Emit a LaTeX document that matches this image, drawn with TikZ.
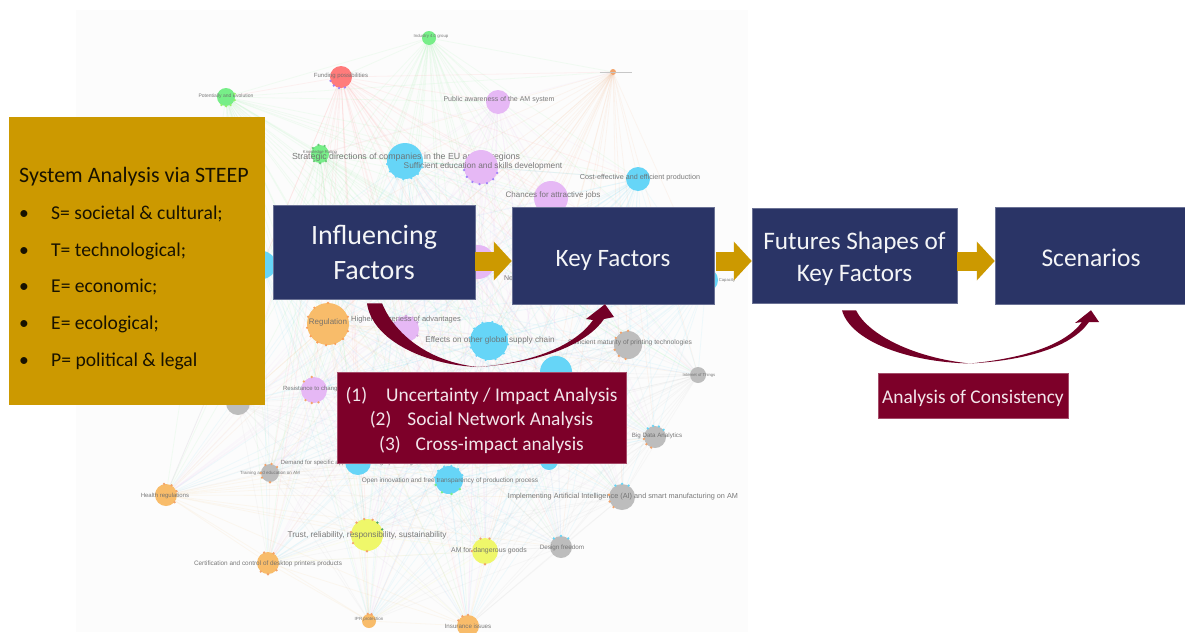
\documentclass[tikz,border=0pt]{standalone}
\usepackage{fontspec}
\setmainfont{Carlito}
\newfontfamily\netfont{Liberation Sans}
\usetikzlibrary{arrows.meta,calc}
\pgfdeclarelayer{back}
\pgfsetlayers{back,main}
\definecolor{navy}{HTML}{2A3466}
\definecolor{goldbox}{HTML}{CC9900}
\definecolor{maroon}{HTML}{7D0029}
\definecolor{ngrn}{HTML}{77EE88}
\definecolor{nred}{HTML}{FF7B7B}
\definecolor{nlil}{HTML}{E6B8F5}
\definecolor{nblu}{HTML}{66D5F7}
\definecolor{norg}{HTML}{F8BC6A}
\definecolor{ngry}{HTML}{BDBDBD}
\definecolor{nyel}{HTML}{EFF76A}
\definecolor{nord}{HTML}{F2A36B}
\tikzset{
  x=1pt,y=-1pt,
  netdot/.style={circle,draw=none,inner sep=0pt},
  netlab/.style={inner sep=0pt,text=black!58,text opacity=.9},
  navybox/.style={rectangle,fill=navy,draw=navy!70!white,line width=.5pt,inner sep=0pt,text=white!95!navy,align=center},
  redbox/.style={rectangle,fill=maroon,draw=maroon!70!white,line width=.5pt,inner sep=0pt,text=white!90!maroon,align=center},
  flowarrow/.style={draw=goldbox,line width=19pt,-{Triangle[length=18pt,width=38pt,fill=goldbox]}},
  crescent/.style={fill=maroon!92!black,draw=none},
  web/.style={line width=.8pt,opacity=.09},
  steep/.style={anchor=base west,inner sep=0pt,text=black!88!goldbox,font=\fontsize{19.6}{21}\selectfont},
}
% name, x, y, radius, colour, label, label x, label y, label size
\newcommand{\nn}[9]{%
  \node[netdot,fill=#5,minimum size=#4*2pt] (#1) at (#2,#3) {};
  \ifx\relax#6\relax\else
  \node[netlab,font=\netfont\fontsize{#9}{#9}\selectfont] (#1l) at (#7,#8) {#6};
  \fi
}
\newcommand{\tk}[3]{\foreach \an in {#3} \fill[#2] (#1.\an) circle (1.3pt);}
\def\netlist{ind/ngrn,fun/nred,pot/ngrn,pub/nlil,tin/nord,kno/ngrn,stra/nblu,suf/nlil,cos/nblu,cha/nlil,blf/nblu,nwn/nlil,cap/nblu,reg/norg,hig/nlil,eff/nblu,mat/ngry,iot/ngry,wrk/nblu,res/nlil,gsm/ngry,hea/norg,tra/ngry,dem/nblu,ope/nblu,blr/nblu,big/ngry,imp/ngry,des/ngry,tru/nyel,dan/nyel,cer/norg,ipr/norg,ins/norg}
\begin{document}
\begin{tikzpicture}
\useasboundingbox (0,0) rectangle (1185,632);
% network nodes
\nn{ind}{429}{38}{7}{ngrn}{Industry 4.0 group}{431}{36}{4.3}
\nn{fun}{341}{77}{11}{nred}{Funding possibilities}{341}{76}{6}
\nn{pot}{226}{97}{9}{ngrn}{Potentially and Evolution}{226}{96}{5}
\nn{pub}{498}{102}{12}{nlil}{Public awareness of the AM system}{499}{100}{7}
\nn{tin}{613}{72}{3}{nord}{}{0}{0}{1}
\nn{kno}{320}{154}{9}{ngrn}{Knowledge Rating}{320}{152}{4.2}
\nn{stra}{405}{161}{18}{nblu}{Strategic directions of companies in the EU and its regions}{406}{157}{8.8}
\nn{suf}{481}{167}{17}{nlil}{Sufficient education and skills development}{483}{166}{8.3}
\nn{cos}{638}{179}{12}{nblu}{Cost-effective and efficient production}{640}{178}{7.2}
\nn{cha}{551}{198}{17}{nlil}{Chances for attractive jobs}{553}{195}{8}
\nn{blf}{262}{265}{14}{nblu}{}{0}{0}{1}
\nn{nwn}{478}{262}{17}{nlil}{New}{511}{278}{7}
\nn{cap}{706}{280}{12}{nblu}{Capacity}{727}{280}{4.2}
\nn{reg}{328}{324}{21}{norg}{Regulation}{328}{322}{8}
\nn{hig}{406}{329}{13}{nlil}{Higher awareness of advantages}{406}{320}{7.5}
\nn{eff}{489}{341}{19}{nblu}{Effects on other global supply chain}{490}{340}{8.2}
\nn{mat}{628}{345}{14}{ngry}{Sufficient maturity of printing technologies}{630}{343}{6.7}
\nn{iot}{698}{375}{8}{ngry}{Internet of Things}{699}{375}{4.2}
\nn{wrk}{556}{372}{16}{nblu}{}{0}{0}{1}
\nn{res}{314}{390}{13}{nlil}{Resistance to change}{312}{389}{6}
\nn{gsm}{238}{403}{12}{ngry}{}{0}{0}{1}
\nn{hea}{166}{495}{11}{norg}{Health regulations}{165}{496}{6}
\nn{tra}{270}{473}{9}{ngry}{Training and education on AM}{270}{473}{4.5}
\nn{dem}{358}{462}{13}{nblu}{Demand for specific applications in high-price segments}{355}{463}{6}
\nn{ope}{449}{480}{14}{nblu}{Open innovation and free transparency of production process}{450}{481}{6.5}
\nn{blr}{549}{461}{9}{nblu}{}{0}{0}{1}
\nn{big}{655}{437}{11}{ngry}{Big Data Analytics}{657}{436}{6.2}
\nn{imp}{622}{497}{13}{ngry}{Implementing Artificial Intelligence (AI) and smart manufacturing on AM}{623}{497}{7.3}
\nn{des}{561}{547}{11}{ngry}{Design freedom}{562}{548}{6.3}
\nn{tru}{367}{535}{16}{nyel}{Trust, reliability, responsibility, sustainability}{367}{535}{8.3}
\nn{dan}{485}{551}{13}{nyel}{AM for dangerous goods}{489}{551}{6.9}
\nn{cer}{268}{563}{11}{norg}{Certification and control of desktop printers products}{268}{564}{6.4}
\nn{ipr}{369}{621}{7}{norg}{IPR protection}{369}{619}{4.5}
\nn{ins}{468}{626}{11}{norg}{Insurance issues}{468}{626}{6.2}
% small markers round the nodes
\draw[black!22,line width=.6pt] ([xshift=-13pt]tin.center) -- ([xshift=19pt]tin.center);
\tk{fun}{nlil!70!blue}{200,230,260,290}
\tk{pot}{ngrn!80!yellow}{240,270,300,340,20}
\tk{kno}{ngrn!85!black}{60,100,140,230,270,310}
\tk{stra}{nblu}{190,215,240,265,290,315,340}
\tk{suf}{nlil!70!blue}{190,215,240,265,290,315,340}
\tk{reg}{norg!85!red}{190,215,240,265,290,315,340,20,90,130,160}
\tk{hig}{nlil!90!black}{30,60,90,120,150,210,270,330}
\tk{eff}{nblu}{20,50,80,110,140,170,200,230,260,290,320,350}
\tk{mat}{nord}{200,230,260,120,150,90}
\tk{res}{nord}{230,260,290,100,140}
\tk{hea}{nord}{20,60,100,320}
\tk{tra}{nord}{180,210,270,40,80,120}
\tk{ope}{nblu}{20,50,80,110,140,170}
\tk{ope}{ngrn}{200,240,280,320}
\tk{big}{nblu}{40,70,100,130}
\tk{big}{nord}{190,220,250}
\tk{imp}{nblu}{60,90,120}
\tk{imp}{nord}{170,200,230}
\tk{des}{nblu}{50,90,130}
\tk{tru}{nord}{70,100,130,170,210,270}
\tk{tru}{ngrn!70!black}{20,50}
\tk{dan}{nord}{70,110,180,270}
\tk{cer}{nord}{60,110,230,270,320}
\tk{ipr}{nord}{70,100}
\tk{ins}{nord}{90,120,150}
% web of links, behind the nodes
\begin{pgfonlayer}{back}
\fill[white] (0,0) rectangle (1185,632);
\fill[black!1.2] (76,10) rectangle (748,632);
\foreach \a/\c [count=\i] in \netlist {
  \foreach \b/\d [count=\j] in \netlist {
    \ifnum\j>\i
      \draw[web,draw=\c] (\a) -- (\b);
    \fi
  }
}
\end{pgfonlayer}
% system analysis box
\node[rectangle,fill=goldbox,inner sep=0pt,minimum width=256pt,minimum height=288pt] (sys) at (137,261) {};
\node[steep,font=\fontsize{22}{23}\selectfont] (sys0) at (19,182) {System Analysis via STEEP};
\node[steep] (sys1) at (19,219) {\makebox[32pt][l]{•}S= societal \& cultural;};
\node[steep] (sys2) at (19,256) {\makebox[32pt][l]{•}T= technological;};
\node[steep] (sys3) at (19,292.5) {\makebox[32pt][l]{•}E= economic;};
\node[steep] (sys4) at (19,329) {\makebox[32pt][l]{•}E= ecological;};
\node[steep] (sys5) at (19,366) {\makebox[32pt][l]{•}P= political \& legal};
% process boxes
\node[navybox,minimum width=202pt,minimum height=94pt,font=\fontsize{28}{35}\selectfont] (if) at (374,252) {Influencing\\Factors};
\node[navybox,minimum width=202pt,minimum height=97pt,font=\fontsize{25}{30}\selectfont] (kf) at (613,255.5) {\rule{0pt}{26pt}Key Factors};
\node[navybox,minimum width=205pt,minimum height=95pt,font=\fontsize{25.2}{32}\selectfont] (fs) at (854.5,255.5) {\rule{0pt}{25pt}Futures Shapes of\\Key Factors};
\node[navybox,minimum width=192pt,minimum height=97pt,font=\fontsize{25.5}{30}\selectfont] (sc) at (1091,255.5) {\rule{0pt}{22pt}Scenarios};
% flow arrows
\draw[flowarrow] ([yshift=-9pt]if.east) -- ([yshift=-5.5pt]kf.west);
\draw[flowarrow] ([yshift=-5.5pt,xshift=2pt]kf.east) -- ([yshift=-5.5pt]fs.west);
\draw[flowarrow] ([yshift=-5.5pt]fs.east) -- ([yshift=-5.5pt]sc.west);
% curved arrows
\fill[crescent] ($(if.south)+(-7,4)$) .. controls (372,340) and (425,365) .. (478,367)
  .. controls (540,362) and (578,342) .. (593,320) -- (586,319) -- ($(kf.south)+(-8,0)$) -- (614,317) -- (604,319)
  .. controls (590,340) and (550,362) .. (478,367)
  .. controls (430,362) and (395,335) .. ($(if.south)+(8,4)$) -- cycle;
\fill[crescent] ($(fs.south)+(-12.5,7)$) .. controls (850,340) and (905,362) .. (970,363.5)
  .. controls (1025,358) and (1065,345) .. (1082,322) -- (1075,323) -- ($(sc.south)+(0,6)$) -- (1099,322) -- (1089,322)
  .. controls (1072,346) and (1030,360) .. (970,363.5)
  .. controls (915,358) and (868,335) .. ($(fs.south)+(1.5,7)$) -- cycle;
% method boxes
\node[redbox,minimum width=289pt,minimum height=91pt,font=\fontsize{19.4}{24.5}\selectfont] (ana) at (481.5,417.5) {\rule{0pt}{20pt}(1)\hspace{19pt}Uncertainty / Impact Analysis\\(2)\hspace{16pt}Social Network Analysis\\(3)\hspace{15pt}Cross-impact analysis};
\node[redbox,minimum width=190pt,minimum height=45pt,font=\fontsize{19.4}{22}\selectfont] (con) at (973,395.5) {\rule{0pt}{19pt}Analysis of Consistency};
\end{tikzpicture}
\end{document}
